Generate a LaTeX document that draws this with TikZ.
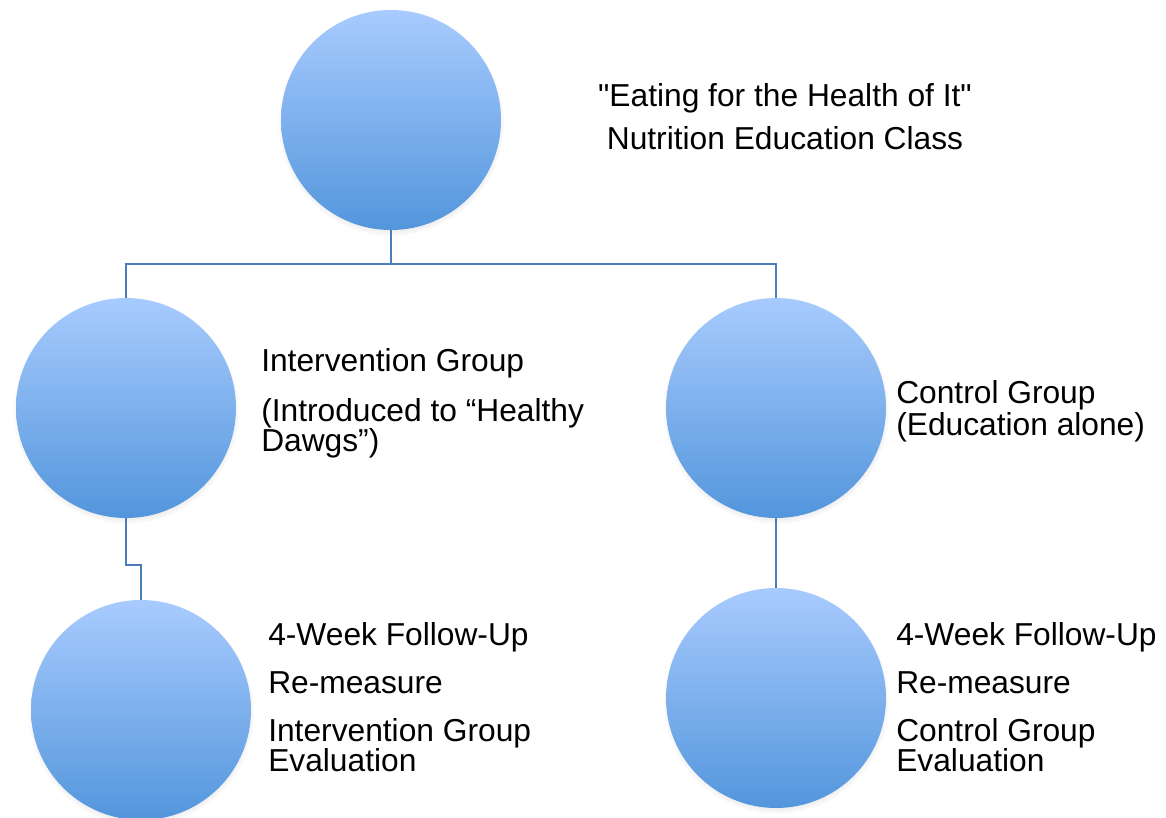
\documentclass[tikz,border=0pt]{standalone}
\usepackage{fontspec}
\setmainfont{Liberation Sans}
\usetikzlibrary{shadows}
\definecolor{ballTop}{RGB}{168,203,254}
\definecolor{ballBottom}{RGB}{83,150,220}
\definecolor{wireblue}{RGB}{74,126,187}
\tikzset{font=\fontsize{23.8}{22.5}\selectfont}
\tikzset{stage/.style={circle, minimum size=165pt, inner sep=0pt,
    top color=ballTop, bottom color=ballBottom,
    circular drop shadow={shadow scale=1.03, shadow xshift=0pt,
      shadow yshift=-2pt, opacity=0.35}}}
\tikzset{blurb/.style={align=left, inner sep=0pt, anchor=north west}}
\tikzset{link/.style={draw=wireblue, line width=1.3pt}}

\begin{document}
\begin{tikzpicture}[x=0.75pt, y=-0.75pt]
  \useasboundingbox (0,0) rectangle (1166,817);
  %Circles
  \node[stage] (class) at (391,120) {};
  \node[stage] (interv) at (126,408) {};
  \node[stage] (ctrl) at (776,408) {};
  \node[stage] (ifollow) at (141,710) {};
  \node[stage] (cfollow) at (776,698) {};
  % Texts
  \node[align=center, inner sep=0pt, anchor=north] (classtxt) at (785,83)
    {\textquotedbl Eating for the Health of It\textquotedbl\\[9.75pt] Nutrition Education Class};
  \node[blurb] (intervtxt) at (261,348)
    {Intervention Group\\[15pt] (Introduced to “Healthy\\ Dawgs”)};
  \node[blurb] (ctrltxt) at (896,380) {Control Group\\[1.5pt] (Education alone)};
  \node[blurb] (ifollowtxt) at (268,622)
    {4-Week Follow-Up\\[13.5pt] Re-measure\\[13.5pt] Intervention Group\\ Evaluation};
  \node[blurb] (cfollowtxt) at (896,622)
    {4-Week Follow-Up\\[13.5pt] Re-measure\\[13.5pt] Control Group\\ Evaluation};
  % Links
  \coordinate (split) at (391,264);
  \coordinate (jog) at (141,565);
  \begin{scope}[every path/.style={link}]
    \draw (class) -- (split) -| (interv);
    \draw (split) -| (ctrl);
    \draw (interv) |- (jog) -- (ifollow);
    \draw (ctrl) -- (cfollow);
  \end{scope}
\end{tikzpicture}
\end{document}
